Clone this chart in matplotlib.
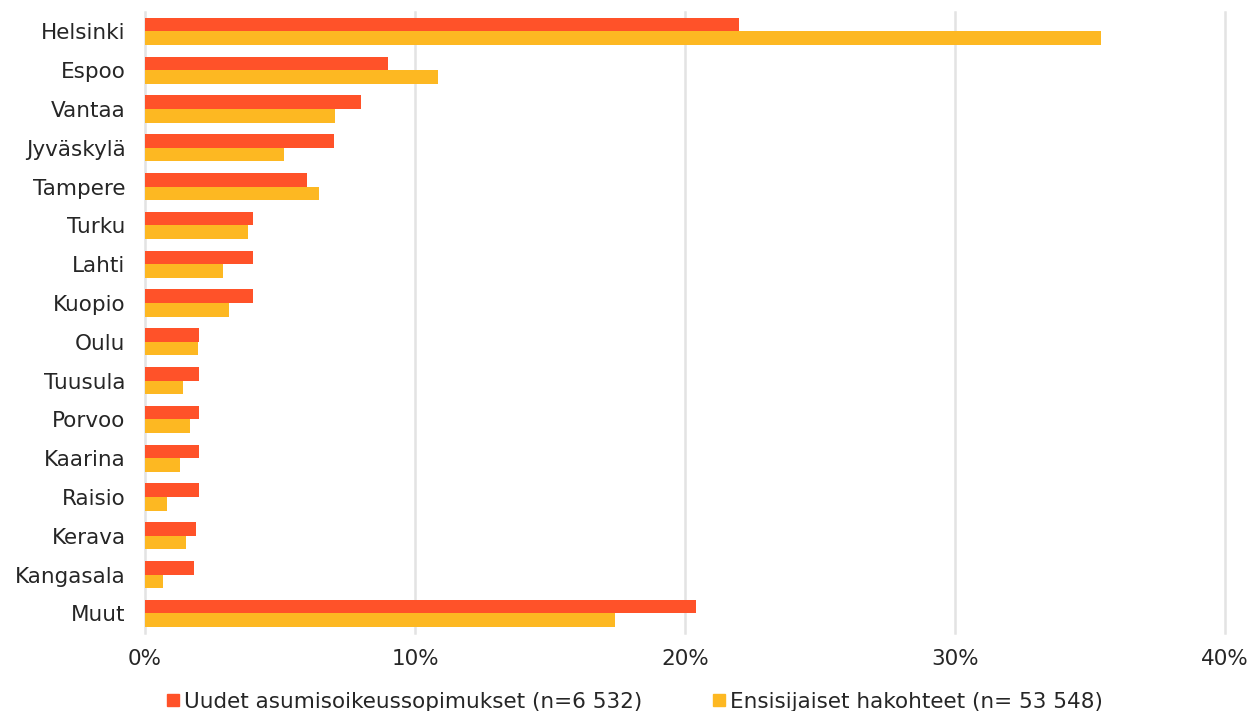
import numpy as np
import matplotlib.pyplot as plt
from matplotlib.lines import Line2D

plt.rcParams['font.family'] = ['DejaVu Sans']

kunnat = ['Helsinki', 'Espoo', 'Vantaa', 'Jyväskylä', 'Tampere', 'Turku', 'Lahti',
          'Kuopio', 'Oulu', 'Tuusula', 'Porvoo', 'Kaarina', 'Raisio', 'Kerava',
          'Kangasala', 'Muut']
uudet = [22.0, 9.0, 8.0, 7.0, 6.0, 4.0, 4.0, 4.0, 2.0, 2.0, 2.0, 2.0, 2.0, 1.9, 1.8, 20.4]
ensisijaiset = [35.4, 10.85, 7.05, 5.15, 6.45, 3.8, 2.9, 3.1, 1.95, 1.4, 1.65, 1.3, 0.8, 1.5, 0.65, 17.4]

punainen = '#FF5229'
keltainen = '#FDB822'

fig = plt.figure(figsize=(12.5, 7.11), dpi=100)
ax = fig.add_axes([0.116, 0.110, 0.864, 0.873])

y = np.arange(len(kunnat))
h = 0.35
ax.barh(y - h / 2, uudet, height=h, color=punainen, zorder=3)
ax.barh(y + h / 2, ensisijaiset, height=h, color=keltainen, zorder=3)

ax.set_xlim(0, 40)
ax.set_ylim(len(kunnat) - 0.5, -0.5)
ax.set_xticks([0, 10, 20, 30, 40])
ax.set_xticklabels(['0%', '10%', '20%', '30%', '40%'])
ax.set_yticks(y)
ax.set_yticklabels(kunnat)
ax.tick_params(axis='both', length=0, labelsize=15.5, colors='#262626')
ax.tick_params(axis='x', pad=12)
ax.tick_params(axis='y', pad=14)
ax.grid(axis='x', color='#e3e3e3', linewidth=1.8, zorder=0)
for g in ax.get_xgridlines():
    g.set_clip_on(False)
for s in ax.spines.values():
    s.set_visible(False)

kahvat = [Line2D([], [], marker='s', linestyle='', color=punainen, markersize=9),
          Line2D([], [], marker='s', linestyle='', color=keltainen, markersize=9)]
fig.legend(kahvat, ['Uudet asumisoikeussopimukset (n=6 532)',
                    'Ensisijaiset hakohteet (n= 53 548)'],
           loc='lower center', bbox_to_anchor=(0.507, -0.028), ncol=2, frameon=False,
           fontsize=15.5, handletextpad=0.1, columnspacing=3.2, handlelength=0.8,
           labelcolor='#262626')

fig.savefig('out.png', dpi=100)
